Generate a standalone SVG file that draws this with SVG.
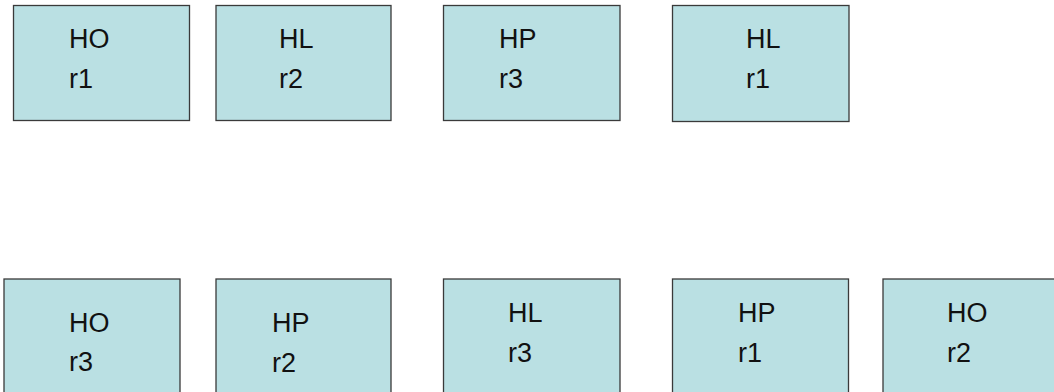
<svg xmlns="http://www.w3.org/2000/svg" width="1054" height="392" viewBox="0 0 1054 392">
<style>
.box{fill:#bae0e3;stroke:#3a3a3a;stroke-width:1.3}
.t{font-family:"Liberation Sans",Arial,sans-serif;font-size:27px;fill:#111}
</style>
<rect width="1054" height="392" fill="#ffffff"/>
<g id="n1"><rect class="box" x="13.5" y="5.5" width="176" height="115"/><text class="t" x="69" y="48">HO</text><text class="t" x="69" y="88">r1</text></g>
<g id="n2"><rect class="box" x="216" y="5.5" width="175" height="115"/><text class="t" x="279" y="48">HL</text><text class="t" x="279" y="88">r2</text></g>
<g id="n3"><rect class="box" x="443.5" y="5.5" width="176.5" height="115"/><text class="t" x="499" y="48">HP</text><text class="t" x="499" y="88">r3</text></g>
<g id="n4"><rect class="box" x="672.5" y="5.5" width="176.5" height="116"/><text class="t" x="746" y="48">HL</text><text class="t" x="746" y="88">r1</text></g>
<g id="n5"><rect class="box" x="4" y="279" width="176" height="130"/><text class="t" x="69" y="332">HO</text><text class="t" x="69" y="371">r3</text></g>
<g id="n6"><rect class="box" x="216" y="279" width="175" height="130"/><text class="t" x="272" y="332">HP</text><text class="t" x="272" y="372">r2</text></g>
<g id="n7"><rect class="box" x="443.5" y="279" width="176.5" height="130"/><text class="t" x="508" y="322">HL</text><text class="t" x="508" y="362">r3</text></g>
<g id="n8"><rect class="box" x="672.5" y="279" width="176" height="130"/><text class="t" x="738" y="322">HP</text><text class="t" x="738" y="362">r1</text></g>
<g id="n9"><rect class="box" x="883" y="279" width="190" height="130"/><text class="t" x="947" y="322">HO</text><text class="t" x="947" y="362">r2</text></g>
<g id="connectors"/>
</svg>
